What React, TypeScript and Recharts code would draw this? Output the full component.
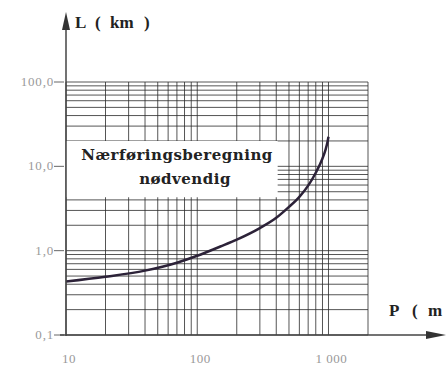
import { LineChart, Line, XAxis, YAxis, CartesianGrid, ReferenceArea } from 'recharts'

// P (m) vs L (km)
const P_VALUES = [10, 20, 40, 70, 100, 150, 200, 300, 400, 500, 600, 700, 800, 900, 950, 980, 1000]
const L_VALUES = [0.43, 0.49, 0.58, 0.72, 0.87, 1.12, 1.35, 1.85, 2.45, 3.3, 4.35, 5.9, 8.4, 12.4, 15.8, 19, 22.4]

const X_TICKS = [10, 20, 30, 40, 50, 60, 70, 80, 90, 100, 200, 300, 400, 500, 600, 700, 800, 900, 1000, 2000]
const Y_TICKS = [0.1, 0.2, 0.3, 0.4, 0.5, 0.6, 0.7, 0.8, 0.9, 1, 2, 3, 4, 5, 6, 7, 8, 9, 10, 20, 30, 40, 50, 60, 70, 80, 90, 100]

const X_LABELS: Record<number, string> = { 10: '10', 100: '100', 1000: '1 000' }
const Y_LABELS: Record<number, string> = { 0.1: '0,1', 1: '1,0', 10: '10,0', 100: '100,0' }

const data = P_VALUES.map((p, i) => ({ p, l: L_VALUES[i] }))

const FONT = '"Liberation Serif", "DejaVu Serif", serif'
const SLAB = '"DejaVu Serif", serif'

function XTick({ x, y, payload }: any) {
  const label = X_LABELS[payload.value]
  if (!label) return null
  return (
    <text x={x + 3} y={y + 20} textAnchor="middle" fontFamily={FONT} fontSize={13} letterSpacing={0.5} fill="#999">
      {label}
    </text>
  )
}

function YTick({ x, y, payload }: any) {
  const label = Y_LABELS[payload.value]
  if (!label) return null
  return (
    <g>
      <line x1={x - 4} x2={x + 6} y1={y} y2={y} stroke="#666" />
      <text x={x - 4} y={y + 4} textAnchor="end" fontFamily={FONT} fontSize={13} letterSpacing={0.8} fill="#999">
        {label}
      </text>
    </g>
  )
}

export default function App() {
  return (
    <div style={{ position: 'absolute', left: 0, top: 0, width: 448, height: 371, background: '#fff', overflow: 'hidden' }}>
      <LineChart width={448} height={371} data={data} margin={{ top: 82, right: 80, bottom: 0, left: 0 }}>
        <CartesianGrid stroke="#2a2a2a" strokeOpacity={0.8} />
        <XAxis
          dataKey="p"
          type="number"
          scale="log"
          domain={[10, 2000]}
          ticks={X_TICKS}
          interval={0}
          allowDataOverflow
          height={36}
          tickLine={false}
          axisLine={false}
          tick={<XTick />}
        />
        <YAxis
          type="number"
          scale="log"
          domain={[0.1, 100]}
          ticks={Y_TICKS}
          interval={0}
          allowDataOverflow
          width={66}
          tickLine={false}
          axisLine={false}
          tick={<YTick />}
        />
        <ReferenceArea x1={10} x2={410} y1={4.3} y2={20} fill="#fff" fillOpacity={1} stroke="none" />
        <Line
          type="monotone"
          dataKey="l"
          stroke="#2c2238"
          strokeWidth={2.5}
          dot={false}
          isAnimationActive={false}
        />
      </LineChart>
      <svg width={448} height={371} style={{ position: 'absolute', left: 0, top: 0, pointerEvents: 'none' }}>
        <line x1={66} x2={66} y1={22} y2={336} stroke="#444" strokeWidth={1.5} />
        <polygon points="66,12 62,30 70,30" fill="#333" />
        <line x1={60} x2={432} y1={335} y2={335} stroke="#444" strokeWidth={1.5} />
        <polygon points="446,335 426,331 426,339" fill="#333" />
        <g fontFamily={FONT} fontWeight="bold" fontSize={17} fill="#222">
          <text x={75} y={28}>L</text>
          <text x={95} y={28}>(</text>
          <text x={110} y={28}>km</text>
          <text x={144} y={28}>)</text>
          <text x={389} y={316}>P</text>
          <text x={412} y={316}>(</text>
          <text x={428} y={316}>m</text>
        </g>
        <text x={177} y={160} textAnchor="middle" fontFamily={SLAB} fontWeight="bold" fontSize={15} letterSpacing={0.5} fill="#222">
          Nærføringsberegning
        </text>
        <text x={185} y={184} textAnchor="middle" fontFamily={SLAB} fontWeight="bold" fontSize={15} letterSpacing={0.5} fill="#222">
          nødvendig
        </text>
      </svg>
    </div>
  )
}
